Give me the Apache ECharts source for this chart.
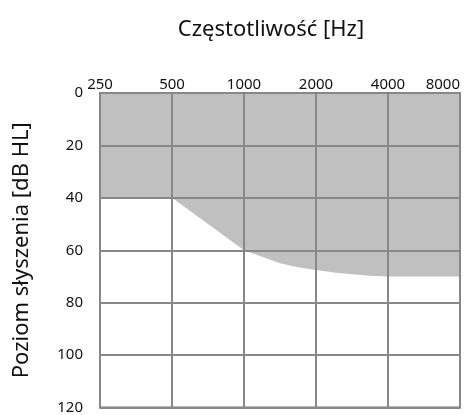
<!DOCTYPE html>
<html>
<head>
<meta charset="utf-8">
<script src="https://cdn.jsdelivr.net/npm/echarts@6/dist/echarts.min.js"></script>
<style>
	html, body { margin: 0; padding: 0; background: #fff; }
	#chart { width: 476px; height: 415px; }
</style>
</head>
<body>
<div id="chart"></div>
<script>
// oś częstotliwości: pozycja w oktawach (0 = 250 Hz)
var freqLabels = ['250', '500', '1000', '2000', '4000', '8000'];
// próg słyszenia [oktawa, dB HL]
var octave = [0, 1, 2, 2.25, 2.5, 2.75, 3, 3.25, 3.5, 3.75, 4, 5];
var levelDb = [40, 40, 60, 62.5, 65, 66.5, 67.5, 68.5, 69.2, 69.7, 70, 70];

var chart = echarts.init(document.getElementById('chart'));

var points = [];
for (let i = 0; i < octave.length; i++) {
	points.push([octave[i], levelDb[i]]);
}

var fontFam = '"Noto Sans", "Open Sans", sans-serif';

var option = {
	animation: false,
	title: {
		text: 'Częstotliwość [Hz]',
		left: 266,
		top: 14,
		textAlign: 'center',
		textStyle: { fontFamily: fontFam, fontSize: 22, fontWeight: 'normal', color: '#111' }
	},
	grid: {
		left: 100,
		right: 16,
		top: 93,
		bottom: 2,
		show: true,
		backgroundColor: 'transparent',
		borderColor: '#777',
		borderWidth: 2
	},
	xAxis: {
		type: 'value',
		position: 'top',
		min: 0,
		max: 5,
		interval: 1,
		axisLine: { show: false },
		axisTick: { show: false },
		axisLabel: {
			margin: 1,
			fontFamily: fontFam,
			fontSize: 15,
			color: '#111',
			alignMaxLabel: 'right',
			formatter: function(v) { return freqLabels[Math.round(v)]; }
		},
		splitLine: { show: true, lineStyle: { color: '#888', width: 2 } }
	},
	yAxis: {
		type: 'value',
		inverse: true,
		min: 0,
		max: 120,
		interval: 20,
		name: 'Poziom słyszenia [dB HL]',
		nameLocation: 'middle',
		nameGap: 67,
		nameTextStyle: { fontFamily: fontFam, fontSize: 22, color: '#111' },
		axisLine: { show: false },
		axisTick: { show: false },
		axisLabel: { margin: 17, fontFamily: fontFam, fontSize: 15, color: '#111' },
		splitLine: { show: true, lineStyle: { color: '#888', width: 2 } }
	},
	series: [{
		type: 'line',
		z: -1,
		data: points,
		symbol: 'none',
		lineStyle: { width: 0 },
		areaStyle: { color: '#c0c0c0', opacity: 1, origin: 'start' }
	}]
};

chart.setOption(option);
</script>
</body>
</html>
